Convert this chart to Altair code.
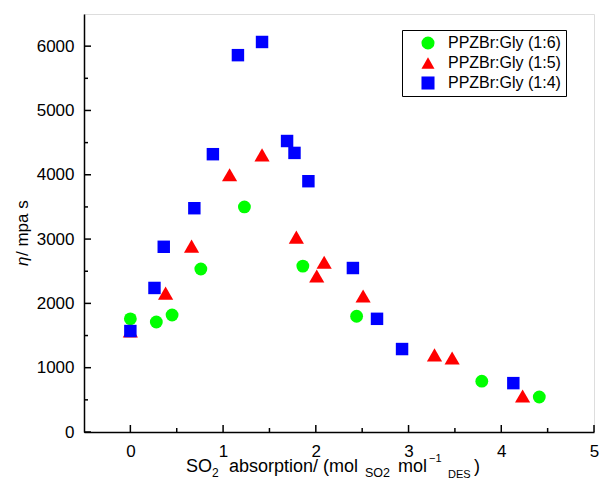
import altair as alt
import pandas as pd

# ---- data ----
x_16 = [0.00, 0.28, 0.45, 0.76, 1.23, 1.86, 2.44, 3.79, 4.41]
y_16 = [1760, 1710, 1820, 2535, 3500, 2580, 1800, 790, 545]

x_15 = [0.00, 0.38, 0.66, 1.07, 1.42, 1.79, 2.01, 2.09, 2.51, 3.28, 3.47, 4.23]
y_15 = [1570, 2160, 2890, 4000, 4310, 3030, 2426, 2640, 2115, 1200, 1150, 560]

x_14 = [0.00, 0.26, 0.36, 0.69, 0.89, 1.16, 1.42, 1.69, 1.77, 1.92, 2.40, 2.66, 2.93, 4.13]
y_14 = [1570, 2240, 2880, 3480, 4320, 5860, 6065, 4525, 4340, 3900, 2550, 1760, 1290, 760]

series_names = ["PPZBr:Gly (1:6)", "PPZBr:Gly (1:5)", "PPZBr:Gly (1:4)"]
series_colors = ["#00FF00", "#FF0000", "#0000FF"]
series_shapes = ["circle", "triangle-up", "square"]
series_sizes = [165, 230, 155]

x_major = [0, 1, 2, 3, 4, 5]
x_minor = [0.5, 1.5, 2.5, 3.5, 4.5]
y_major = [0, 1000, 2000, 3000, 4000, 5000, 6000]
y_minor = [500, 1500, 2500, 3500, 4500, 5500]

x_title_parts = ["SO", "2", "absorption/ (mol", "SO2", "mol", "\u22121", "DES", ")"]
y_title_parts = ["\u03b7", "/ mpa s"]

W, H = 510, 418
FONT = "Liberation Sans"

rows = []
for name, xs, ys in zip(series_names, [x_16, x_15, x_14], [y_16, y_15, y_14]):
    for a, b in zip(xs, ys):
        rows.append({"x": a, "y": b, "series": name})
df = pd.DataFrame(rows)

xscale = alt.Scale(domain=[-0.5, 5], nice=False, zero=False)
yscale = alt.Scale(domain=[0, 6500], nice=False, zero=False)
xaxis = alt.Axis(values=x_major, ticks=False, domain=True, domainColor="black",
                 domainWidth=1.5, grid=False, title=None, format="d",
                 labelFont=FONT, labelFontSize=17, labelColor="black", labelPadding=11,
                 labelFlush=False)
yaxis = alt.Axis(values=y_major, ticks=False, domain=True, domainColor="black",
                 domainWidth=1.5, grid=False, title=None, format="d",
                 labelFont=FONT, labelFontSize=17, labelColor="black", labelPadding=10)

color_enc = alt.Color("series:N",
                      scale=alt.Scale(domain=series_names, range=series_colors),
                      legend=alt.Legend(title=None, orient="none", legendX=318, legendY=16,
                                        strokeColor="black", padding=5, symbolOffset=13,
                                        labelFont=FONT, labelFontSize=16, labelColor="black",
                                        labelOffset=12, rowPadding=4, symbolSize=170,
                                        fillColor="white"))
shape_enc = alt.Shape("series:N",
                      scale=alt.Scale(domain=series_names, range=series_shapes))

point_layers = []
for name, s in zip(series_names, series_sizes):
    point_layers.append(
        alt.Chart(df).transform_filter(alt.datum.series == name)
        .mark_point(filled=True, opacity=1, size=s)
        .encode(x=alt.X("x:Q", scale=xscale, axis=xaxis),
                y=alt.Y("y:Q", scale=yscale, axis=yaxis),
                color=color_enc, shape=shape_enc)
    )

def tick_layer(vals, field, length):
    d = pd.DataFrame({field: vals})
    if field == "x":
        return alt.Chart(d).mark_rule(color="black", strokeWidth=1.5).encode(
            x=alt.X("x:Q", scale=xscale, axis=xaxis),
            y=alt.value(H), y2=alt.value(H - length))
    return alt.Chart(d).mark_rule(color="black", strokeWidth=1.5).encode(
        y=alt.Y("y:Q", scale=yscale, axis=yaxis),
        x=alt.value(0), x2=alt.value(length))

ticks = [tick_layer(x_major, "x", 7), tick_layer(x_minor, "x", 4),
         tick_layer(y_major, "y", 7), tick_layer(y_minor, "y", 4)]

# x title pieces: (x, y baseline, font size)
x_pos = [(102, 458, 18), (128, 463, 12), (145, 458, 18), (281, 463, 12.5),
         (314, 458, 18), (345, 448, 11), (364, 464, 11), (390, 458, 18)]
texts = []
for t, (px, py, fs) in zip(x_title_parts, x_pos):
    texts.append(alt.Chart(pd.DataFrame({"t": [t]})).mark_text(
        align="left", baseline="alphabetic", font=FONT, fontSize=fs, color="black"
    ).encode(x=alt.value(px), y=alt.value(py), text="t:N"))

y_pos = [(-56, 252, "italic"), (-56, 242, "normal")]
for t, (px, py, st) in zip(y_title_parts, y_pos):
    texts.append(alt.Chart(pd.DataFrame({"t": [t]})).mark_text(
        align="left", baseline="alphabetic", font=FONT, fontSize=17, color="black",
        angle=270, fontStyle=st
    ).encode(x=alt.value(px), y=alt.value(py), text="t:N"))

chart = alt.layer(*ticks, *point_layers, *texts).properties(
    width=W, height=H,
    autosize=alt.AutoSizeParams(type="none"),
    padding={"left": 76, "top": 6, "right": 6, "bottom": 48},
).configure_view(stroke="black", strokeWidth=1.5).configure(background="white")

chart.save("out.html", embed_options={"renderer": "svg", "actions": False})
